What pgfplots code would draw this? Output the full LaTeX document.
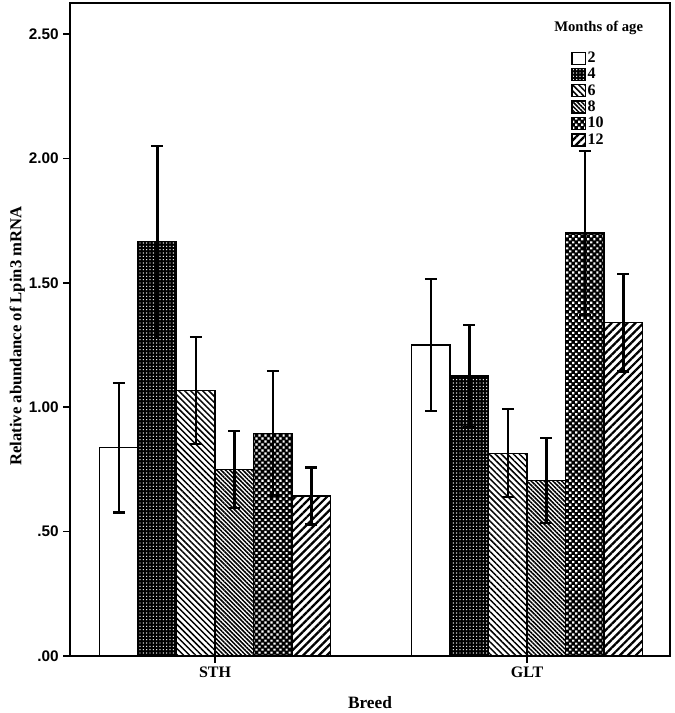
\documentclass[border=0pt]{standalone}
\usepackage{fontspec}
\setmainfont{Liberation Serif}
\newfontfamily\ticksans{Liberation Sans}
\usepackage{pgfplots}
\usepackage{pgfplotstable}
\pgfplotsset{compat=1.18}
\usetikzlibrary{patterns,patterns.meta}

% months of age: 2, 4, 6, 8, 10, 12 ; x=0 STH, x=1 GLT
\pgfplotstableread{
x y e
0 0.837 0.260
1 1.250 0.266
}\mtwo
\pgfplotstableread{
x y e
0 1.665 0.386
1 1.125 0.205
}\mfour
\pgfplotstableread{
x y e
0 1.068 0.215
1 0.815 0.177
}\msix
\pgfplotstableread{
x y e
0 0.750 0.154
1 0.705 0.171
}\meight
\pgfplotstableread{
x y e
0 0.895 0.250
1 1.700 0.330
}\mten
\pgfplotstableread{
x y e
0 0.643 0.115
1 1.340 0.196
}\mtwelve

\pgfplotsset{
  eb/.style={error bars/.cd, y dir=both, y explicit,
    error bar style={line width=1.8pt,black},
    error mark options={rotate=90,line width=1.8pt,mark size=4.5pt,black}},
}

\begin{document}
\begin{tikzpicture}
\begin{axis}[name=ax,
  width=450pt, height=489.75pt, scale only axis,
  ybar=0pt, bar width=0.1234,
  xmin=-0.465, xmax=1.458, ymin=0, ymax=2.625,
  xtick={0,1}, xticklabels={STH,GLT},
  ytick={0,0.5,1,1.5,2,2.5}, yticklabels={.00,.50,1.00,1.50,2.00,2.50},
  axis line style={line width=1.5pt},
  tick style={line width=1.3pt,black},
  tick align=outside, xtick pos=bottom, ytick pos=left,
  major tick length=5pt,
  xticklabel style={font=\bfseries\fontsize{12}{14}\selectfont},
  yticklabel style={font=\ticksans\bfseries\fontsize{11.5}{13}\selectfont},
  xlabel={Breed}, ylabel={Relative abundance of Lpin3 mRNA},
  every axis x label/.style={at={(axis description cs:0.5,-0.072)},anchor=center,font=\bfseries\fontsize{13}{15}\selectfont},
  every axis y label/.style={at={(axis description cs:-0.088,0.49)},rotate=90,anchor=center,font=\bfseries\fontsize{12.5}{14}\selectfont},
  legend image code/.code={\draw[#1,line width=1pt] (0pt,-4.5pt) rectangle (10pt,4.5pt);},
  legend style={at={(axis description cs:0.835,0.928)},anchor=north west,draw=none,fill=none,
    inner sep=0pt,row sep=0.4pt,font=\bfseries\fontsize{12}{13}\selectfont,
    nodes={inner sep=1.2pt}},
  legend cell align=left,
]
\addplot[draw=black,line width=1pt,fill=white,eb] table[x=x,y=y,y error=e] {\mtwo};
\addplot[draw=black,line width=1pt,fill=black,
  postaction={pattern={Dots[distance=2.5pt,radius=0.55pt]},pattern color=white},eb]
  table[x=x,y=y,y error=e] {\mfour};
\addplot[draw=black,line width=1pt,fill=white,
  postaction={pattern={Lines[angle=-45,distance=3.2pt,line width=1.1pt]},pattern color=black},eb]
  table[x=x,y=y,y error=e] {\msix};
\addplot[draw=black,line width=1pt,fill=white,
  postaction={pattern={Lines[angle=-45,distance=2.3pt,line width=1.15pt]},pattern color=black},eb]
  table[x=x,y=y,y error=e] {\meight};
\addplot[draw=black,line width=1pt,fill=black,
  postaction={pattern={Dots[angle=45,distance=3.2pt,radius=1.15pt]},pattern color=white},eb]
  table[x=x,y=y,y error=e] {\mten};
\addplot[draw=black,line width=1pt,fill=white,
  postaction={pattern={Lines[angle=45,distance=4.2pt,line width=1.7pt]},pattern color=black},eb]
  table[x=x,y=y,y error=e] {\mtwelve};
\legend{2,4,6,8,10,12}
\node[anchor=east,font=\bfseries\fontsize{11}{12}\selectfont] at (axis description cs:0.963,0.962) {Months of age};
\end{axis}
\pgfresetboundingbox
\path[use as bounding box] ([shift={(-52.5pt,-42.75pt)}]ax.south west) rectangle ([shift={(3.75pt,2.25pt)}]ax.north east);
\end{tikzpicture}
\end{document}
